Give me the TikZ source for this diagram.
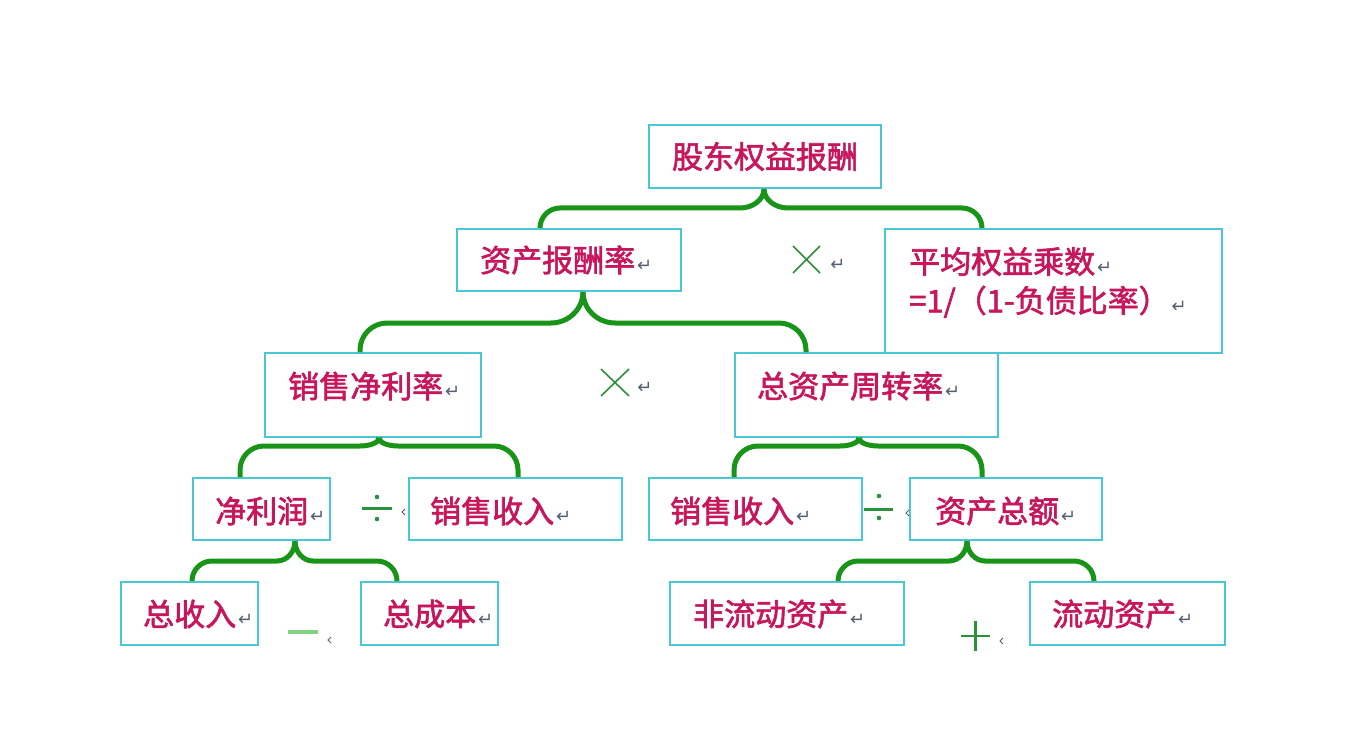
\documentclass[tikz,border=0pt]{standalone}
\usepackage{fontspec}
\newfontfamily\cjk[FakeBold=2]{Noto Sans CJK SC}
\newfontfamily\symf{DejaVu Sans}
\usetikzlibrary{calc}
\definecolor{boxc}{RGB}{72,200,210}
\definecolor{txtc}{RGB}{200,22,92}
\definecolor{brc}{RGB}{24,148,24}
\definecolor{opc}{RGB}{45,145,60}
\definecolor{lgc}{RGB}{130,210,130}
\definecolor{rtc}{RGB}{85,95,110}
\newcommand\rt{\hspace{2pt}{\symf\fontsize{18}{18}\selectfont\color{rtc}↵}}
% #1 tip, #2 end, #3 level, #4 side (-1/1), #5 tip extent, #6 end extent
\newcommand\halfbrace[6]{%
 \draw[brace] let \p1=(#1), \p2=(#2), \p3=(#3) in
 (\p1) .. controls (\x1,{\y1+0.55*(\y3-\y1)}) and ({\x1+(#4)*0.45*#5pt},\y3) .. ({\x1+(#4)*#5pt},\y3)
 -- ({\x2-(#4)*#6pt},\y3) .. controls ({\x2-(#4)*0.45*#6pt},\y3) and (\x2,{\y3-0.45*#6pt}) .. (\x2,{\y3-#6pt}) -- (\p2);}
\newcommand\tinymark[1]{\draw[rtc,line width=1pt] ($(#1)+(3,-3)$) -- (#1) -- ($(#1)+(3,3)$);}
\begin{document}
\begin{tikzpicture}[x=1pt,y=-1pt,
 box/.style={draw=boxc,line width=2pt,inner sep=0pt},
 txt/.style={text=txtc,font=\cjk\fontsize{31}{39}\selectfont,inner sep=0pt,anchor=west,align=left},
 brace/.style={draw=brc,line width=5pt},
 opline/.style={draw=opc,line width=1.6pt}]
\useasboundingbox[fill=white] (0,0) rectangle (1346,730);
% boxes
\node[box,minimum width=232pt,minimum height=63pt] (b1) at (765,156.5) {};
\node[box,minimum width=224pt,minimum height=62pt] (b2) at (569,260) {};
\node[box,minimum width=337pt,minimum height=124pt] (b3) at (1053.5,291) {};
\node[box,minimum width=216pt,minimum height=84pt] (b4) at (373,395) {};
\node[box,minimum width=263pt,minimum height=84pt] (b5) at (866.5,395) {};
\node[box,minimum width=137pt,minimum height=62pt] (b6) at (261.5,509) {};
\node[box,minimum width=213pt,minimum height=62pt] (b7) at (515.5,509) {};
\node[box,minimum width=213pt,minimum height=62pt] (b8) at (755.5,509) {};
\node[box,minimum width=192pt,minimum height=62pt] (b9) at (1006,509) {};
\node[box,minimum width=137pt,minimum height=63pt] (b10) at (189.5,613.5) {};
\node[box,minimum width=137pt,minimum height=63pt] (b11) at (429.5,613.5) {};
\node[box,minimum width=234pt,minimum height=63pt] (b12) at (787,613.5) {};
\node[box,minimum width=195pt,minimum height=63pt] (b13) at (1127.5,613.5) {};
% texts
\node[txt,anchor=center] (t1) at (b1.center) {股东权益报酬};
\node[txt] (t2) at (480,260) {资产报酬率\rt};
\node[txt] (t3) at (909,282.5) {平均权益乘数\rt\\=1/（1-负债比率）\rt};
\node[txt] (t4) at (288,386) {销售净利率\rt};
\node[txt] (t5) at (757,386) {总资产周转率\rt};
\node[txt] (t6) at (215,511) {净利润\rt};
\node[txt] (t7) at (430,511) {销售收入\rt};
\node[txt] (t8) at (670,511) {销售收入\rt};
\node[txt] (t9) at (935,511) {资产总额\rt};
\node[txt] (t10) at (143,614) {总收入\rt};
\node[txt] (t11) at (383,614) {总成本\rt};
\node[txt] (t12) at (693,614) {非流动资产\rt};
\node[txt] (t13) at (1052,614) {流动资产\rt};
% brace levels
\coordinate (L1) at (0,208);
\coordinate (L2) at (0,323);
\coordinate (L3) at (0,446);
\coordinate (L5) at (0,561);
% brace 1
\coordinate (p1) at ($(b1.south)+(-1,0)$);
\coordinate (e1a) at ($(b2.north west)+(84,0)$);
\coordinate (e1b) at ($(b3.north west)+(98,0)$);
\halfbrace{p1}{e1a}{L1}{-1}{24}{20}
\halfbrace{p1}{e1b}{L1}{1}{24}{20}
% brace 2
\coordinate (p2) at ($(b2.south)+(14,0)$);
\coordinate (e2a) at ($(b4.north west)+(96,0)$);
\coordinate (e2b) at ($(b5.north west)+(72,0)$);
\halfbrace{p2}{e2a}{L2}{-1}{32}{27}
\halfbrace{p2}{e2b}{L2}{1}{32}{27}
% brace 3
\coordinate (p3) at ($(b4.south)+(6,0)$);
\coordinate (e3a) at ($(b6.north west)+(48,0)$);
\coordinate (e3b) at ($(b7.north west)+(110,0)$);
\halfbrace{p3}{e3a}{L3}{-1}{19}{24}
\halfbrace{p3}{e3b}{L3}{1}{19}{24}
% brace 4
\coordinate (p4) at ($(b5.south)+(-7.5,0)$);
\coordinate (e4a) at ($(b8.north west)+(86,0)$);
\coordinate (e4b) at ($(b9.north west)+(73,0)$);
\halfbrace{p4}{e4a}{L3}{-1}{19}{24}
\halfbrace{p4}{e4b}{L3}{1}{19}{24}
% brace 5
\coordinate (p5) at ($(b6.south)+(33.5,0)$);
\coordinate (e5a) at ($(b10.north west)+(72,0)$);
\coordinate (e5b) at ($(b11.north west)+(37,0)$);
\halfbrace{p5}{e5a}{L5}{-1}{18}{20}
\halfbrace{p5}{e5b}{L5}{1}{18}{20}
% brace 6
\coordinate (p6) at ($(b9.south)+(-39,0)$);
\coordinate (e6a) at ($(b12.north west)+(169,0)$);
\coordinate (e6b) at ($(b13.north west)+(65,0)$);
\halfbrace{p6}{e6a}{L5}{-1}{18}{20}
\halfbrace{p6}{e6b}{L5}{1}{18}{20}
% operators
\draw[opline] (793,246) -- (820,273) (820,246) -- (793,273);
\node[inner sep=0pt] (r1) at (838,265) {\symf\fontsize{18}{18}\selectfont\color{rtc}↵};
\draw[opline] (601,369) -- (629,396) (629,369) -- (601,396);
\node[inner sep=0pt] (r2) at (645,388) {\symf\fontsize{18}{18}\selectfont\color{rtc}↵};
\draw[draw=opc,line width=3pt] (362,508) -- (392,508);
\fill[opc] (377,497) circle (2.3) (377,519) circle (2.3);
\coordinate (m1) at (402,512); \tinymark{m1}
\draw[draw=opc,line width=3pt] (864,509) -- (893,509);
\fill[opc] (879,496) circle (2.3) (879,518) circle (2.3);
\coordinate (m2) at (906,513); \tinymark{m2}
\draw[draw=lgc,line width=4.5pt] (288,632) -- (318,632);
\coordinate (m3) at (328,640); \tinymark{m3}
\draw[draw=opc,line width=2.5pt] (961,636) -- (990,636) (975.5,621) -- (975.5,651);
\coordinate (m4) at (1000,641); \tinymark{m4}
\end{tikzpicture}
\end{document}
